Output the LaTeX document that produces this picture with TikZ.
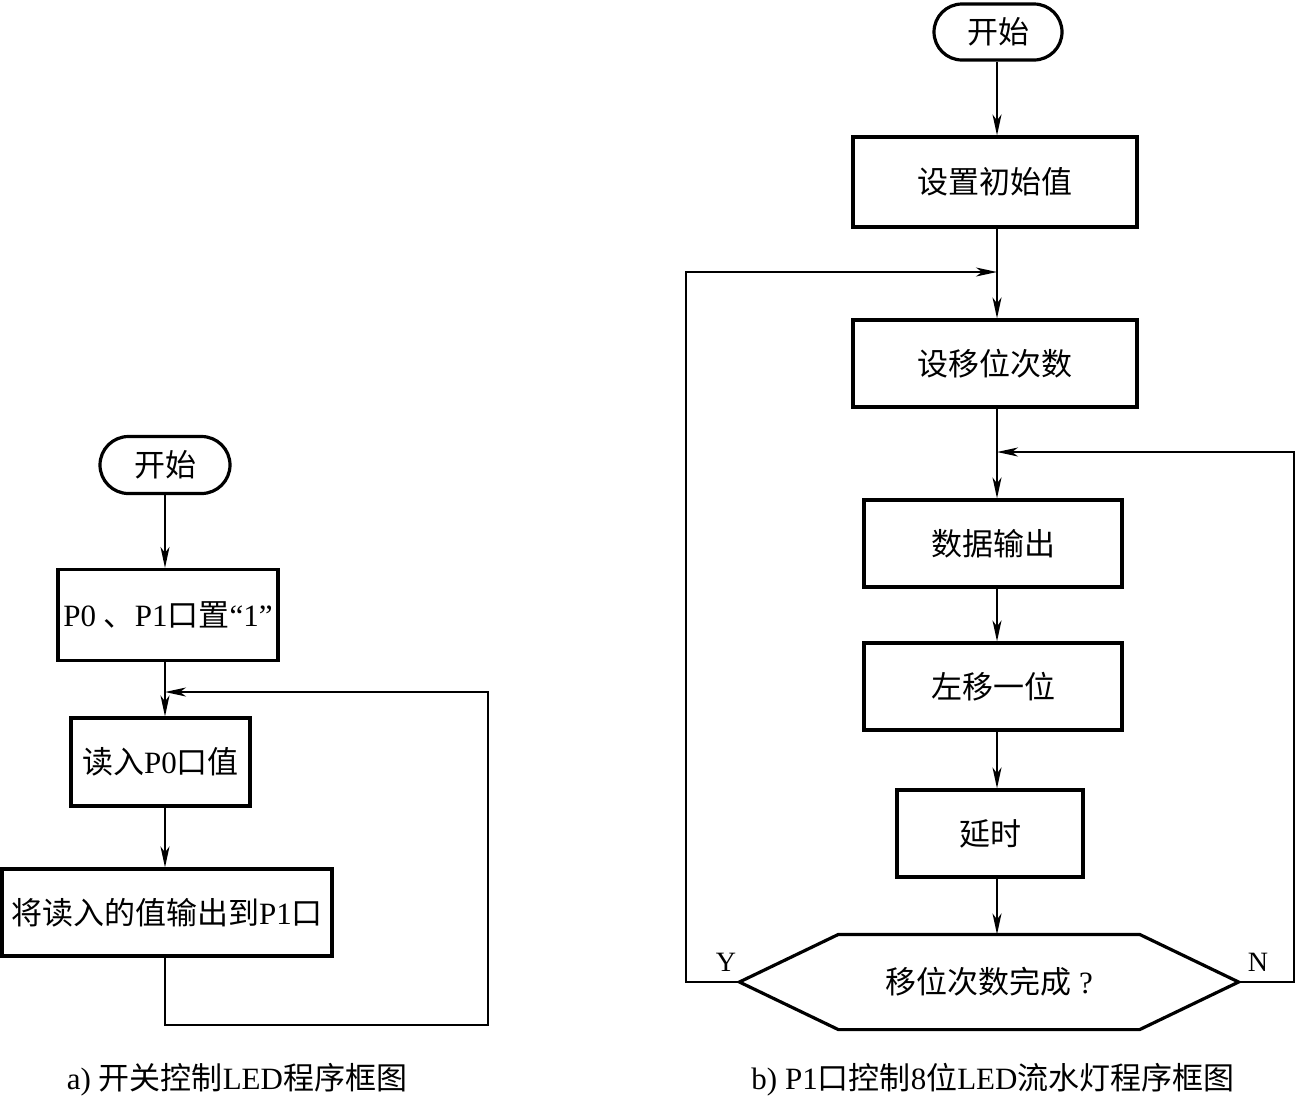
\documentclass[tikz,border=0pt]{standalone}
\usepackage{fontspec}
\setmainfont{Liberation Serif}
\newfontfamily\cjk{Noto Sans CJK SC}
\usepackage{pgf, tikz}
\usetikzlibrary{shapes.misc}
\usetikzlibrary{arrows.meta,calc}

\tikzset{
  prog/.style={draw, line width=3.2pt, inner sep=0pt, font=\fontsize{31}{33}\selectfont},
  term/.style={prog, rounded rectangle, minimum width=130pt, minimum height=57pt},
  flow/.style={line width=1.7pt, -{Stealth[length=21pt,width=9pt,inset=6pt]}},
  yn/.style={font=\fontsize{28}{30}\selectfont},
  captext/.style={font=\fontsize{31}{33}\selectfont}
}

\begin{document}
\begin{tikzpicture}[x=1pt,y=-1pt]
\useasboundingbox (0,0) rectangle (1297,1096);
% a) left chart
\node[term] (s1) at (165,465) {\cjk 开始};
\node[prog, minimum width=220pt, minimum height=91pt] (p1) at (168,615) {P0 {\cjk 、}P1{\cjk 口置}“1”};
\node[prog, minimum width=179pt, minimum height=88pt] (r1) at (160.5,762) {{\cjk 读入}P0{\cjk 口值}};
\node[prog, minimum width=330pt, minimum height=87pt] (w1) at (167,912.5) {{\cjk 将读入的值输出到}P1{\cjk 口}};
\coordinate (j1) at (165,692);
\coordinate (la) at (488,1025);
\draw[flow] (s1) -- (p1.north -| s1);
\draw[flow] (p1.south -| s1) -- (r1.north -| s1);
\draw[flow] (r1.south -| s1) -- (w1.north -| s1);
\draw[flow] (w1.south -| s1) |- (la) |- (j1);
\node[captext] (ca) at (237,1080) {a) {\cjk 开关控制}LED{\cjk 程序框图}};
% b) right chart
\node[term, minimum width=128pt, minimum height=56pt] (s2) at (998,32) {\cjk 开始};
\node[prog, minimum width=284pt, minimum height=90pt] (init) at (995,182) {\cjk 设置初始值};
\node[prog, minimum width=284pt, minimum height=87pt] (cnt) at (995,363.5) {\cjk 设移位次数};
\node[prog, minimum width=258pt, minimum height=87pt] (out) at (993,543.5) {\cjk 数据输出};
\node[prog, minimum width=258pt, minimum height=87pt] (shl) at (993,686.5) {\cjk 左移一位};
\node[prog, minimum width=186pt, minimum height=87pt] (dly) at (990,833.5) {\cjk 延时};
\node[prog, draw=none, minimum width=496pt, minimum height=92pt] (done) at (989,982) {{\cjk 移位次数完成} ?};
\draw[line width=3.2pt] (done.west) -- ($(done.north west)+(99,0)$) -- ($(done.north east)+(-99,0)$)
  -- (done.east) -- ($(done.south east)+(-99,0)$) -- ($(done.south west)+(99,0)$) -- cycle;
\coordinate (j2) at (997,272);
\coordinate (j3) at (997,452);
\coordinate (ly) at (686,982);
\coordinate (ln) at (1294,982);
\draw[flow] (s2.south -| j2) -- (init.north -| j2);
\draw[flow] (init.south -| j2) -- (cnt.north -| j2);
\draw[flow] (cnt.south -| j2) -- (out.north -| j2);
\draw[flow] (out.south -| j2) -- (shl.north -| j2);
\draw[flow] (shl.south -| j2) -- (dly.north -| j2);
\draw[flow] (dly.south -| j2) -- (done.north -| j2);
\draw[flow] (done.west) -- (ly) |- (j2);
\draw[flow] (done.east) -- (ln) |- (j3);
\node[yn] (yl) at (726,962) {Y};
\node[yn] (nl) at (1258,962) {N};
\node[captext] (cb) at (993,1080) {b) P1{\cjk 口控制}8{\cjk 位}LED{\cjk 流水灯程序框图}};
\end{tikzpicture}
\end{document}
